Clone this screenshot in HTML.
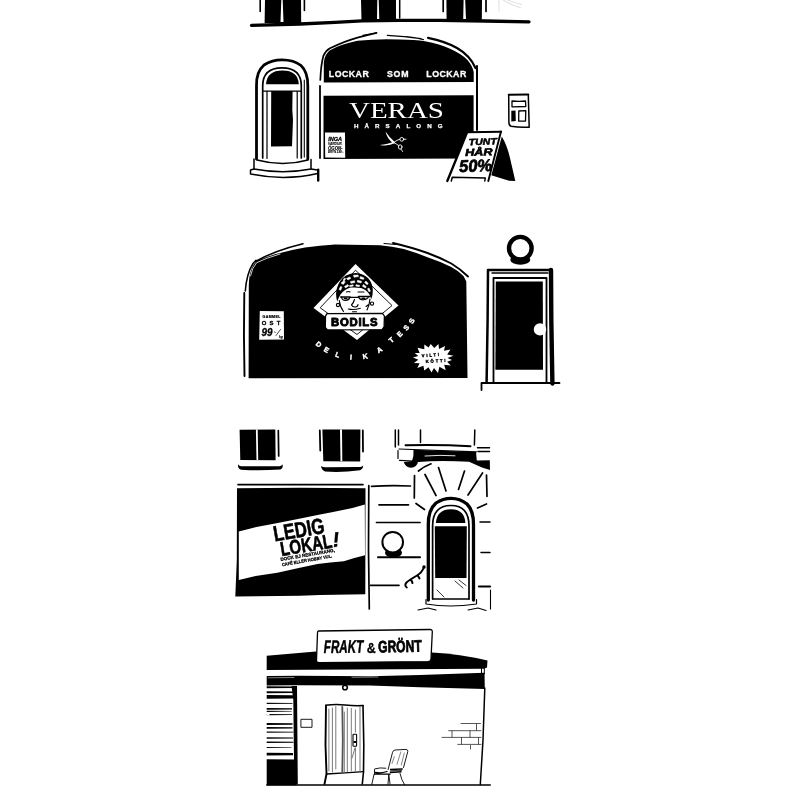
<!DOCTYPE html>
<html>
<head>
<meta charset="utf-8">
<title>Butiker</title>
<style>
html,body{margin:0;padding:0;background:#fff;}
body{width:800px;height:800px;overflow:hidden;font-family:"Liberation Sans",sans-serif;}
svg{display:block;}
text{font-family:"Liberation Sans",sans-serif;}
.k{fill:#000;}
.w{fill:#fff;}
.l{fill:none;stroke:#000;stroke-linecap:round;stroke-linejoin:round;}
.lw{fill:none;stroke:#fff;stroke-linecap:round;stroke-linejoin:round;}
</style>
</head>
<body>
<svg width="800" height="800" viewBox="0 0 800 800">
<rect width="800" height="800" fill="#fff"/>
<defs><filter id="soft" x="0" y="0" width="800" height="800" filterUnits="userSpaceOnUse"><feGaussianBlur stdDeviation="0.420"/></filter></defs>
<g filter="url(#soft)">

<!-- ================= SECTION 1 : VERAS HARSALONG ================= -->
<g id="s1">
  <!-- upper windows -->
  <path class="k" d="M265 0H301L301.200 23H264.600Z"/>
  <path class="w" d="M281.300 0H282.700L283.500 22H280.500Z"/>
  <path class="l" stroke-width="1.600" d="M260.200 0V11.500M304.400 0V10.500"/>
  <path class="k" d="M361 0H396V20H361.500Z"/>
  <path class="w" d="M377.300 0H378.700L379.300 19.500H377Z"/>
  <path class="l" stroke-width="1.500" d="M399.700 0V18"/>
  <path class="k" d="M446.400 0H482L481.800 21H446.600Z"/>
  <path class="w" d="M463.600 0H465.200L466 20H463.200Z"/>
  <path class="l" stroke-width="1.700" d="M443.200 0V11.500M486 0V11.500"/>
  <!-- ledge -->
  <path class="l" stroke-width="3.300" d="M251.600 25.400L300 24L335 22.300L362 20.900L400 20.400L440 20.300L485 21L529 21.800"/>
  <!-- faint grey mark -->
  <path d="M499 0V11.500M503 0Q512 5.500 521 8M507.500 0Q515 3 522 4.500" fill="none" stroke="#e2e2e2" stroke-width="1.100"/>

  <!-- left arched door -->
  <path class="l" stroke-width="2.800" d="M256.500 159V86Q256 72 264 65Q272 59.800 282 59.800Q294 59.800 301 65.500Q308 72 307.800 86V159"/>
  <path class="l" stroke-width="1.100" d="M304.300 80V157"/>
  <path class="l" stroke-width="1.700" d="M262.700 158V86Q262.700 67.800 282 67.800Q301.300 67.800 301.300 86V158"/>
  <path class="k" d="M266 84.200Q267 70.500 282.500 70.500Q298 70.500 298.800 84.200Z"/>
  <path class="l" stroke-width="1.200" d="M263 91.200H301M267 91.500V158.500M297.200 91.500V158"/>
  <path class="k" d="M271.200 91H292.600L292.300 110L293 120L292 146.300L271 146.600Z"/>
  <!-- steps -->
  <path class="l" stroke-width="1.500" d="M254 159V169M311 159.500V169M257 160Q283 167 308 160M254 169Q283 174.500 311 169"/>
  <path class="l" stroke-width="1.500" d="M254 169L250.500 170V174Q285 181 317.500 173.500M311 169L317.500 170"/>
  <path class="l" stroke-width="2.400" d="M318.200 169.800V180.500"/>
  <!-- salon arch -->
  <path class="k" d="M323.800 82.500V62Q324.800 54 330 50.200Q340 44.500 357.500 40.800Q378 38.600 400 39.600Q415 39.800 425 41.200Q440 44 450 48.700Q462 54 467.500 60Q472.500 66 473.700 72V82Z"/>
  <path class="l" stroke-width="1.700" d="M320.300 80Q321 64 323.500 55.600Q326 50.500 330 48.300Q345 41 357.500 37.600Q367 35 376.600 32.800"/>
  <path class="l" stroke-width="1.200" d="M363 35.300L376 33M387.300 35.400Q404 36.300 421 38.600M406.500 36.500Q416 37.500 423.400 39.700"/>
  <path class="l" stroke-width="2.200" d="M428 37.800Q446 41.500 457 48Q470 55.500 475.500 68"/>
  <path class="l" stroke-width="2" d="M477 66V130"/>
  <path class="l" stroke-width="1.800" d="M320 86V158"/>
  <!-- window -->
  <path class="k" d="M323.5 95.8L473.6 95.3V158.6L323.5 159Z"/>
  <!-- lockar som lockar -->
  <g fill="#fff" font-weight="bold" font-size="8.800" stroke="#fff" stroke-width="0.300" stroke-linejoin="round">
    <text x="328.800" y="77.100" textLength="40" lengthAdjust="spacing">LOCKAR</text>
    <text x="387" y="77.100" textLength="21.500" lengthAdjust="spacing">SOM</text>
    <text x="426.300" y="77.100" textLength="40" lengthAdjust="spacing">LOCKAR</text>
  </g>
  <text x="349" y="117.900" fill="#fff" font-family="Liberation Serif" font-size="23.600" textLength="95" lengthAdjust="spacingAndGlyphs" style="font-family:'Liberation Serif',serif">VERAS</text>
  <text x="354" y="128.300" fill="#fff" stroke="#fff" stroke-width="0.250" font-size="6.200" font-weight="bold" textLength="88.500" lengthAdjust="spacing">HÅRSALONG</text>
  <!-- scissors -->
  <path class="w" d="M385.500 131.600Q389.500 138 394.800 142L393.500 143.500Q387.300 139.500 385.500 131.600Z"/>
  <path class="w" d="M379.800 144.900Q388 144.600 394 141.300L395 143Q388.500 146.600 379.800 144.900Z"/>
  <g class="lw" stroke-width="0.900">
    <path d="M394.500 142Q397 139.800 399.800 139.300M403.600 139.300L406 139.200"/>
    <circle cx="401.800" cy="139.300" r="1.900"/>
    <path d="M394.500 143Q397 144.300 398.700 145.500M401 149L402.600 151.500"/>
    <ellipse cx="400.200" cy="147" rx="1.800" ry="2.200"/>
  </g>
  <!-- small sign in window -->
  <path class="w" d="M325 132.600L345 132.400L345.200 157.800L325.200 157.600Z"/>
  <g fill="#000" stroke="#000" font-weight="bold" font-style="italic">
    <text x="328.300" y="140.700" font-size="6.100" stroke-width="0.300" textLength="13.800" lengthAdjust="spacingAndGlyphs">INGA</text>
    <text x="328" y="144.500" font-size="3.700" stroke-width="0.100" textLength="14.500" lengthAdjust="spacingAndGlyphs">VARDUR.</text>
    <text x="328" y="149.500" font-size="4.800" stroke-width="0.150" textLength="14.500" lengthAdjust="spacingAndGlyphs">ÖGON-</text>
    <text x="328" y="153.300" font-size="3.500" stroke-width="0.100" textLength="15.500" lengthAdjust="spacingAndGlyphs">BRYN 190:-</text>
  </g>

  <!-- wall box -->
  <path class="l" stroke-width="1.500" d="M508.700 95L508.900 122Q508.800 125.500 511 126.300Q520 127.800 529.200 127.200L528.300 95"/>
  <path class="l" stroke-width="2" d="M508.700 94.800L528.300 94.500"/>
  <path class="l" stroke-width="1.300" d="M512 101Q519 101.800 525.500 101L525.800 106.500L512 106.800Z"/>
  <path class="k" d="M511.300 110.800L515.500 110.600L515.800 121L511.300 121.600Z"/>
  <path class="l" stroke-width="1.300" d="M518.800 111L525.800 110.600L525.500 121L518.700 121.200Z"/>
  <!-- A-frame sign -->
  <path class="k" d="M501.800 136.500Q507 145 510 158L515.300 181L509 180.800L491.300 175.200Z"/>
  <path class="w" d="M467 132L501 131.300L488.500 179L448 180Z"/>
  <path class="l" stroke-width="2.100" d="M467.300 132.300L501 131.700"/>
  <path class="l" stroke-width="2.300" d="M467 132.500L447.300 181"/>
  <path class="l" stroke-width="1.900" d="M501 131.500L488.300 181"/>
  <path class="l" stroke-width="1.500" d="M451.300 181L452.300 177.300L485.300 178L484.800 181"/>
  <g fill="#000" stroke="#000" stroke-linejoin="round" font-weight="bold" font-style="italic" transform="rotate(-2 480 150)">
    <text x="469" y="144.800" font-size="9" stroke-width="0.500" textLength="28" lengthAdjust="spacingAndGlyphs">TUNT</text>
    <text x="465" y="155.500" font-size="10" stroke-width="0.600" textLength="27.500" lengthAdjust="spacingAndGlyphs">HÅR</text>
    <text x="458.500" y="171.300" font-size="17" stroke-width="0.700" textLength="33" lengthAdjust="spacingAndGlyphs">50%</text>
  </g>
</g>

<!-- ================= SECTION 2 : BODILS DELIKATESS ================= -->
<g id="s2">
  <!-- big black shape -->
  <path class="k" d="M248.600 378.200L248.800 285Q249 275 252 268Q254 263 257 260.800Q265 257.500 275 254.300Q290 250 305 247.500Q320 245.500 335 244.600L380 245.200Q392 246.500 403.800 249Q416 252.500 427.500 257.300Q440 261.500 451.300 267Q458 270.500 463.500 276L466.300 281.500L467.500 378Z"/>
  <!-- outline strokes -->
  <path class="l" stroke-width="1.900" d="M244.300 293Q243.500 335 244.500 376"/>
  <path class="l" stroke-width="1.500" d="M245.300 291Q246.500 274 253 263.500L256 260.300M255.500 261.500Q275 250.500 303 243.800"/>
  <path class="lw" stroke-width="0.800" d="M250.500 276Q252 268 256.500 262.800Q266 258 280 254"/>
  <path class="l" stroke-width="1.900" d="M393 243Q412 247.500 427.500 253Q441 258 451.300 263.500Q461 269.500 468 276.500"/>
  <path class="l" stroke-width="1.100" d="M384 243.500L396 244.500"/>
  <!-- small sign -->
  <path class="w" d="M259.800 311L283.800 311.300L284 339.600L259.200 339.800Z"/>
  <g fill="#000" stroke="#000" font-weight="bold">
    <text x="262.500" y="318.300" font-size="3.600" stroke-width="0.200" textLength="18" lengthAdjust="spacing">GAMMEL</text>
    <text x="261.800" y="324.800" font-size="5.900" stroke-width="0.300" textLength="18.500" lengthAdjust="spacing">OST</text>
    <text x="261.500" y="335.800" font-size="10.800" stroke-width="0.300" font-style="italic" textLength="11" lengthAdjust="spacingAndGlyphs">99</text>
    <text x="273.800" y="332.500" font-size="3.500" stroke-width="0.100" font-style="italic">:-</text>
    <text x="279" y="337.500" font-size="3.300" stroke-width="0.100" font-style="italic">kg</text>
  </g>
  <path class="l" stroke-width="0.700" d="M280.500 329.500L276 335.500"/>
  <!-- diamond -->
  <path class="w" d="M355.5 264L398.5 305.5L357 340L313.5 308Z"/>
  <path class="l" stroke-width="0.9" d="M355.8 270.5L392 305.5L357 334.5L320.5 308Z"/>
  <!-- face -->
  <path class="w" d="M338.500 296Q338 308 345 314H364Q371.500 308 371.300 296Z"/>
  <path class="k" d="M337.200 301.500Q335 294 337 288Q339.500 279.500 346 275.500Q351 272.800 356 273Q363 273.500 368 278Q372.500 283 372.800 290Q373 295 371.300 299L369.300 294.200Q366 289.500 361 288Q355 287 351 287.600Q344.500 289 340.500 294.500Q339 297 337.200 301.500Z"/>
  <g class="w" stroke="#fff" stroke-width="0.500" stroke-linejoin="round">
    <path d="M341 283l2.500 -2 1.800 .8 -2 2.700zM346.500 278.500l3 -1.500 1.500 1.200 -3 1.800zM353.500 275.200l4.500 -.2 .5 1.600 -4.500 .6zM360.500 276.500l3.500 1.400 -.5 1.500 -3.700 -1zM366 281l2.300 2.600 -1.300 1.200 -2.400 -2.400zM339 289.500l1.500 -3 1.500 .6 -1.300 3.200zM344.500 286.500l3.200 -2 1 1.400 -3.200 2zM350.500 281.500l4 -.8 .4 1.800 -4 .8zM357.500 280.300l4 .9 -.4 1.800 -4 -1zM363.500 284.500l2.800 2.200 -1 1.400 -3 -2zM369 288l1.400 3.200 -1.500 .6 -1.400 -3zM349.500 285.500l3.500 -.8 .3 1.300 -3.500 .8zM356 284.700l3.600 .6 -.3 1.400 -3.500 -.6zM343 280.300l1.500-2.300 1.200.7-1.500 2.300z"/>
  </g>
  <g class="l" stroke-width="1.150">
    <path stroke-width="1.500" d="M340.700 297H350M358.500 296.500H370"/>
    <path d="M350 297.300H358.500"/>
    <path d="M341.500 297Q342 300.500 345.500 300.500Q349 300.300 349.800 297.500M358.800 297Q359.500 299.800 363.500 299.800Q367.500 299.500 368.500 296.800"/>
    <path d="M354.500 299.500Q353.500 303 351.500 305Q352.500 307.300 355.500 307Q358 306.500 358 304.500"/>
    <path d="M348.300 309Q354 310.300 360.300 308.300M352.500 311.700H356.500"/>
    <path d="M339.300 300.500Q340 307 343.500 311.500M370 299Q369.500 305 367 310M366 306.500L368.800 304.500"/>
    <path d="M346.500 292Q348.500 291 350 292M358 292H364"/>
    <circle cx="338" cy="305" r="1.600" fill="#fff"/>
    <circle cx="372" cy="303.600" r="1.600" fill="#fff"/>
  </g>
  <ellipse class="k" cx="345.600" cy="298.600" rx="2" ry="1"/>
  <ellipse class="k" cx="363.300" cy="298.300" rx="2.200" ry="0.900"/>
  <!-- label -->
  <path d="M327 313.700L382.500 313.300L384.400 316L384.100 327L382 329.600L327.500 329.900L325.300 327.500L325.500 316.200Z" fill="#fff" stroke="#000" stroke-width="1.300" stroke-linejoin="round"/>
  <path class="k" d="M318 318L325 321V335H318ZM392 318L385 321V335H392Z"/>
  <text x="331" y="326" font-size="11.300" font-weight="bold" fill="#000" textLength="46.500" lengthAdjust="spacing" stroke="#000" stroke-width="0.900" stroke-linejoin="round">BODILS</text>
  <!-- delikatess -->
  <g fill="#fff" stroke="#fff" stroke-width="0.400" font-weight="bold" font-size="7" text-anchor="middle">
    <text transform="translate(318.75 344.25) rotate(38)" y="2.500">D</text>
    <text transform="translate(326.50 349.80) rotate(30)" y="2.500">E</text>
    <text transform="translate(337.50 354.60) rotate(20)" y="2.500">L</text>
    <text transform="translate(351.00 357.20) rotate(6)" y="2.500">I</text>
    <text transform="translate(365.20 356.20) rotate(-8)" y="2.500">K</text>
    <text transform="translate(379.50 349.70) rotate(-30)" y="2.500">A</text>
    <text transform="translate(391.30 340.00) rotate(-40)" y="2.500">T</text>
    <text transform="translate(399.70 334.00) rotate(-45)" y="2.500">E</text>
    <text transform="translate(406.30 327.60) rotate(-52)" y="2.500">S</text>
    <text transform="translate(411.60 321.00) rotate(-58)" y="2.500">S</text>
  </g>
  <!-- starburst -->
  <path class="w" d="M412.9 357.6L418.3 356.0L414.7 353.0L419.7 352.9L417.5 347.8L424.3 349.3L424.3 344.6L428.6 347.6L430.7 344.0L434.3 347.9L438.5 343.9L439.0 348.9L445.1 346.1L443.9 350.8L450.5 349.6L447.2 354.4L453.5 355.7L447.5 358.0L452.0 360.0L447.1 361.7L450.8 365.5L444.2 364.8L445.7 370.3L439.4 366.7L438.0 373.1L434.0 368.0L431.5 372.4L428.5 367.2L424.3 370.5L423.4 365.7L417.3 368.0L419.6 363.2L413.9 362.9L418.3 359.8Z"/>
  <g fill="#000" stroke="#000" stroke-width="0.350" font-weight="bold" font-size="4.600">
    <text transform="translate(421.800 357.200) rotate(-4)" font-size="4.300" textLength="17.500" lengthAdjust="spacing">VILT!</text>
    <text transform="translate(425.800 363) rotate(-3)" font-size="4.300" textLength="20" lengthAdjust="spacing">KÖTT!</text>
  </g>

  <!-- lamp -->
  <ellipse class="k" cx="520.300" cy="259.800" rx="10" ry="5"/>
  <circle cx="520.300" cy="248.200" r="11.300" fill="#fff" stroke="#000" stroke-width="4.400"/>
  <!-- door -->
  <path class="l" stroke-width="2.500" d="M486.600 382L487.600 320L488 270H551"/>
  <path class="l" stroke-width="4.400" stroke-linecap="butt" d="M551 270L551.300 320L552.400 383.500"/>
  <path class="l" stroke-width="1.4" d="M492 273H548"/>
  <path class="l" stroke-width="1.8" d="M493.5 382V278H546.5V382"/>
  <path class="k" d="M495.8 281.4H542.8L543 369.8H495.4Z"/>
  <circle class="w" cx="540" cy="329.4" r="6.2"/>
  <path class="l" stroke-width="1.8" d="M481.5 390V383H559.500"/>
</g>

<!-- ================= SECTION 3 : LEDIG LOKAL ================= -->
<g id="s3">
  <!-- windows -->
  <path class="k" d="M239.600 429.800L275.300 429.500L275.600 460.300L240.300 460Z"/>
  <path class="w" d="M255.900 429.500H257.700L258.200 460H256.500Z"/>
  <path class="l" stroke-width="1.700" d="M278.300 430.500L278.700 456"/>
  <path class="k" d="M238 464.300Q238.500 466 241 466.300L279.500 466.300Q282 466 282.500 464.300Q283.500 468 280.500 469.500Q260 471 241 469.800Q237.500 468.500 238 464.300Z"/>
  <path class="k" d="M322.400 429.600L360.400 429.500L360.200 461.500L323.300 461.300Z"/>
  <path class="w" d="M340 429.500H342L342.300 461H340.500Z"/>
  <path class="l" stroke-width="1.800" d="M319.800 430.500L320.300 450.500M362.800 430.500L363 451.500"/>
  <path class="k" d="M321 466Q323 467.500 326 467.300L358 467Q362 467 363 465.500Q363.500 468.500 360 470.300Q341 472.800 325 471.500Q321.500 470 321 466Z"/>
  <!-- line above shop window -->
  <path class="l" stroke-width="1.7" d="M238 484.6H363"/>
  <!-- shop window -->
  <path class="k" d="M237 488.300L300 487.800L365.500 488.200L365.300 594.300L320 595L300 595.800L235.300 596.600L236.800 560Z"/>
  <!-- banner -->
  <path class="w" d="M238.800 531.600Q256 526.500 273.800 523.800Q296 519.500 317.500 515Q336 511.500 352.500 508L364.800 504.500L365 555.300Q354 558 343.800 561.200Q330 562.500 317.500 564Q296 568.500 277.300 572.800Q258 575 238.800 580Z"/>
  <g fill="#000" stroke="#000" font-weight="bold" stroke-linejoin="round">
    <text transform="translate(274.800 541.600) rotate(-9.900)" font-size="21.800" stroke-width="0.600" textLength="51.500" lengthAdjust="spacingAndGlyphs">LEDIG</text>
    <text transform="translate(281.500 556) rotate(-9.300)" font-size="19.800" stroke-width="0.600" textLength="52" lengthAdjust="spacingAndGlyphs">LOKAL</text>
    <text transform="translate(333.300 547) rotate(-6)" font-size="20.500" font-style="italic" stroke-width="0.500">!</text>
    <text transform="translate(280.800 561) rotate(-9.700)" font-size="4.600" stroke-width="0.250" textLength="55" lengthAdjust="spacingAndGlyphs">DOCK EJ RESTAURANG,</text>
    <text transform="translate(282.200 566.200) rotate(-9.900)" font-size="4.400" stroke-width="0.250" textLength="51" lengthAdjust="spacingAndGlyphs">CAFÉ ELLER HOBBY VUL.</text>
  </g>

  <!-- wall right of shop -->
  <path class="l" stroke-width="1.700" d="M368.800 485.500L368.500 550L369.300 609"/>
  <path class="l" stroke-width="1.700" d="M371.500 486.300Q390 485.300 410.500 486M379 504.800H408.500M376.500 522.500H420M370.500 585.300H399"/>
  <path class="l" stroke-width="2" d="M378 557.2H420"/>
  <!-- globe lamp -->
  <ellipse class="k" cx="393.500" cy="552.800" rx="8.500" ry="5"/>
  <circle cx="392.700" cy="542.200" r="10.300" fill="#fff" stroke="#000" stroke-width="2"/>
  <!-- hook -->
  <path class="l" stroke-width="2" d="M423.800 567.500Q422 572.500 417 575.500Q410 579.500 406.500 582.500Q404 585.500 406.800 587.500M417.500 575L419.500 578.500M411 579.500L412.500 583"/>
  <circle class="k" cx="424" cy="567" r="1.700"/>
  <!-- top lines -->
  <path class="l" stroke-width="1.500" d="M395.300 430V447M398.500 430V445M420.500 430V442.500M474.800 430L474.400 445"/>
  <!-- console / balcony underside -->
  <path class="l" stroke-width="1.900" d="M405.500 445.300Q440 444.500 470.500 446.200"/>
  <path class="l" stroke-width="1.500" d="M477.500 447.700H489.500M478 451.500H489.500"/>
  <path class="l" stroke-width="1.200" d="M399 449L476.500 451.800M398 450.500V458.500M399.500 460.300L413 461"/>
  <path class="k" d="M413.500 449.800L476 452L476.800 460.500L489.800 460.300L490 470L482 467.500L469 461.800Q440 460.300 418 462Q417 467 411 467.800Q405 467 403.800 462L412 461Q414 456 413.500 449.800Z"/>
  <path class="lw" stroke-width="0.900" d="M425 456Q440 454.800 455 455.800"/>
  <!-- voussoir lines -->
  <path class="l" stroke-width="1.700" d="M414.500 475.500L414.300 498M425 474.500L436 495.500M438.500 467.500L446 491M464.500 471L458.500 489.500M482.500 473L468 495M486.500 475L487 496.500M416 503.500L424.500 509.500M477.500 508L486.500 504M418.500 471Q424 466.500 431 463.800"/>
  <path class="l" stroke-width="1.500" d="M480 522H490M481 552.500H490"/>
  <path class="l" stroke-width="2.200" d="M479 586.500H490"/>
  <path class="l" stroke-width="1.100" d="M490.500 590V609"/>
  <!-- arched door -->
  <path class="l" stroke-width="3.300" d="M428.300 600V525Q428 510 436 503Q443 498.300 451 498.300Q460 498.300 467 504Q473.800 511 473.500 525V600"/>
  <path class="l" stroke-width="1.700" d="M432.600 599V526Q432.600 505.500 451 505.500Q469 505.500 469 526V599"/>
  <path class="k" d="M435.900 523Q437 509.300 451 509.300Q464.500 509.300 465.400 523Z"/>
  <path class="k" d="M434.800 526.200H466.800L466.500 578H435.200Z"/>
  <path class="l" stroke-width="1.300" d="M433 599H469"/>
  <path class="l" stroke-width="0.800" d="M437 590L444 597M455 581L463 588M459 580L466 585.500"/>
  <path class="l" stroke-width="1.200" d="M426 599.500V604Q450 608 476.500 604V599.500M418 610L428 608L436 610M468 610L478 608L486 610.500"/>
</g>

<!-- ================= SECTION 4 : FRAKT & GRONT ================= -->
<g id="s4">
  <!-- roof -->
  <path class="k" d="M266.700 655.800L316 651.500L432 652.500Q460 654 487.500 660.500L487 667.500L484 668.800L266.700 670Z"/>
  <!-- second band -->
  <path class="k" d="M266.700 676L300 675.700L370 676.200L420 675L484.500 672.800L484.800 689L420 687.300L370 685.500L297 685.200L266.700 685.500Z"/>
  <path class="l" stroke-width="1" d="M484.300 668V674M481.500 668.500V673.500"/>
  <path class="lw" stroke-width="0.500" d="M268 677.800L294 677.500M352 677.300L378 677"/>
  <!-- sign -->
  <path d="M318.500 631L430 629.500Q432.500 629.500 432.300 632L431 659Q430.800 661.500 428 661.600L319 662.600Q316.300 662.600 316.500 660L317.500 633Q317.500 631 318.500 631Z" fill="#fff" stroke="#000" stroke-width="1.3"/>
  <g fill="#000" stroke="#000" stroke-linejoin="round" font-weight="bold">
    <text transform="translate(323.800 653) rotate(-0.500)" font-size="18.200" font-style="italic" stroke-width="0.500" textLength="39.500" lengthAdjust="spacingAndGlyphs">FRAKT</text>
    <text x="366.800" y="652.500" font-size="15.500" stroke-width="0.300" textLength="9" lengthAdjust="spacingAndGlyphs">&amp;</text>
    <text transform="translate(378.300 652.600) rotate(-1.500)" font-size="16.600" stroke-width="0.800" textLength="43.500" lengthAdjust="spacingAndGlyphs">GRÖNT</text>
  </g>
  <!-- shutter -->
  <g class="k">
    <path d="M266.700 686.2L293.0 686.5L293.0 687.9L266.700 688.2Z"/>
    <path d="M266.700 691.2L293.0 691.5L293.0 692.9L266.700 693.2Z"/>
    <path d="M266.700 695.0L293.0 695.3L293.0 698.5L266.700 698.8Z"/>
    <path d="M266.700 702.8L292.5 703.1L292.5 703.7L266.700 704.0Z"/>
    <path d="M266.700 708.0L292.0 708.3L292.0 709.5L266.700 709.8Z"/>
    <path d="M266.700 710.7L291.5 711.0L291.5 711.6L266.700 711.9Z"/>
    <path d="M266.700 714.0L292.0 714.3L292.0 715.0L266.700 715.3Z"/>
    <path d="M266.700 723.0L292.5 723.3L292.5 724.7L266.700 725.0Z"/>
    <path d="M266.700 726.9L292.5 727.2L292.5 728.5L266.700 728.8Z"/>
    <path d="M266.700 731.5L293.5 731.8L293.5 732.5L266.700 732.8Z"/>
    <path d="M266.700 737.2L293.0 737.5L293.0 738.5L266.700 738.8Z"/>
    <path d="M266.700 741.5L293.5 741.8L293.5 742.7L266.700 743.0Z"/>
    <path d="M266.700 746.9L291.5 747.2L291.5 747.8L266.700 748.1Z"/>
    <path d="M266.700 752.8L293.0 753.1L293.0 755.3L266.700 755.6Z"/>
    <path d="M266.700 759.200L296 759.500V785.300H266.700Z"/>
  </g>
  <path class="w" d="M266.700 714H269.500V715.400H266.700Z"/>
  <path class="k" d="M291.500 686L297 686L297.800 784.500L294.300 784.500L293.300 700Z"/>
  <!-- lamp -->
  <circle cx="345" cy="687.500" r="2.300" fill="#fff" stroke="#000" stroke-width="1.600"/>
  <!-- plaque -->
  <rect class="l" stroke-width="0.900" x="301.300" y="719.300" width="10.700" height="8"/>
  <!-- door -->
  <path class="l" stroke-width="1.900" d="M326 705.500L325.500 745L326.500 774L324.500 784"/>
  <path class="l" stroke-width="1.500" d="M326 705.300Q335 704 345 705Q355 706 363 705.500"/>
  <path class="l" stroke-width="1.600" d="M363 705.500L363.800 745L363.500 772L362.300 784"/>
  <path class="l" stroke-width="1.300" d="M326.500 774Q345 773 363.500 771.700"/>
  <g fill="none" stroke="#6a6a6a" stroke-width="0.900" stroke-linecap="round">
    <path d="M328.900 709V771M332.400 708V772M335.800 706.500V769M347.300 708V771.500M351.300 708.500V771M355.400 710V732M355.400 748V771M360 707V771M352 758L355 748"/>
    <path stroke="#555" stroke-width="1.800" d="M342.300 707L342.800 740L342.300 772"/>
    <path d="M344.300 712V772"/>
  </g>
  <rect x="353" y="734.300" width="3.600" height="12" rx="0.800" fill="#fff" stroke="#000" stroke-width="1.100"/>
  <path class="k" d="M353.500 741H356V743H353.500Z"/>
  <!-- ground -->
  <path class="l" stroke-width="1.300" d="M266.700 785H490.300"/>
  <!-- right wall -->
  <path class="l" stroke-width="1.500" d="M484.800 688L483 740L480.300 784.500"/>
  <!-- bricks -->
  <path class="l" stroke="#333" style="stroke:#3a3a3a" stroke-width="0.850" d="M461 723.500H480.500M448.700 730.700H481M442 737.400H481M457.700 744.400H481M476.500 723.500V730.500M452 730.700V737M470 730.700V737.400M461.500 737.400V744.400M478.500 737.400V744.400M470.500 745.500V749"/>
  <!-- chair -->
  <g class="l" stroke-width="0.900">
    <path d="M388.100 769.500L392.500 752.500Q393 750.300 395 750L406 749.400Q408.300 749.800 407.800 751.500L403.500 767.500" fill="#fff"/>
    <path stroke="#555" stroke-width="0.700" d="M394.300 756.500L392 763.500M400.800 752L397 764.300M404.300 753L401.300 765"/>
    <path d="M375 768.800Q380 767.300 385.800 768.200M374.500 769.500V774"/>
    <path stroke-width="1.300" d="M374.500 774.200H390M375.500 772.500Q381 773.500 387 771.500"/>
    <path stroke-width="1.500" stroke-linecap="butt" d="M390 769.600L402.700 768.900M389.800 772.500L401.500 771.700"/>
    <path stroke="#444" stroke-width="1.400" stroke-linecap="butt" d="M390 771L402 770.300"/>
    <path d="M374 774.500L371.800 784.500M388.800 774.500L390 784M388.800 774.500L388 784M400 773.500Q401.500 780 404.500 784.700"/>
  </g>
</g>
</g>

</g>
</svg>
</body>
</html>
